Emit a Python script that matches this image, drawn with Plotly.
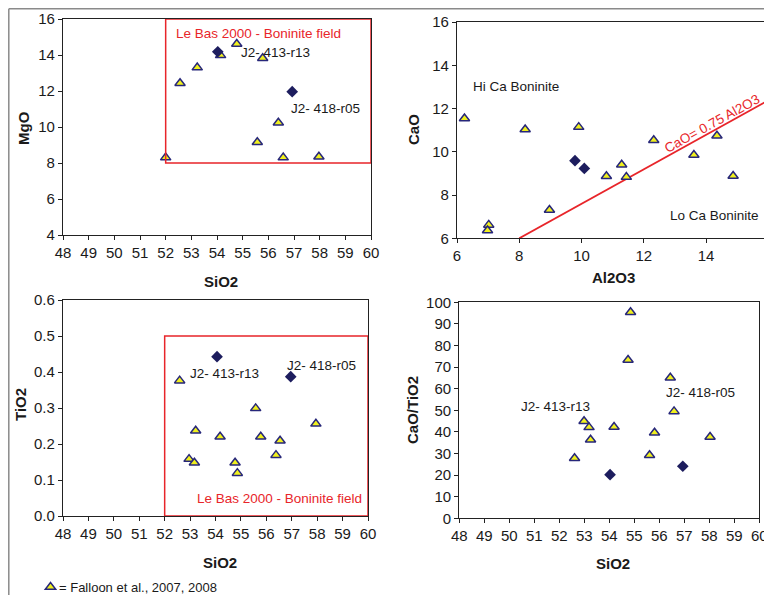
import plotly.graph_objects as go

# The page body adds an 8 px margin, so the figure is made smaller than the window
# (to avoid scrollbars) and every reference pixel position is shifted by OFF.
WIN_W, WIN_H = 772, 603
OFF = 8
W, H = WIN_W - OFF, WIN_H - 2 * OFF

# ---------------- data ----------------
# Panel 1: MgO vs SiO2
p1_tri_sio2 = [52.0, 52.56, 53.23, 54.14, 54.77, 55.78, 56.39, 55.57, 56.58, 57.97]
p1_tri_mgo = [8.3, 12.43, 13.3, 13.98, 14.61, 13.82, 10.24, 9.15, 8.3, 8.35]
p1_dia_sio2 = [54.03, 56.93]
p1_dia_mgo = [14.18, 11.96]

# Panel 2: CaO vs Al2O3
p2_tri_al2o3 = [6.24, 8.19, 9.91, 12.32, 14.35, 13.61, 11.29, 10.8, 11.44, 14.87, 8.97, 7.02, 6.98]
p2_tri_cao = [11.54, 11.03, 11.14, 10.53, 10.74, 9.85, 9.4, 8.87, 8.83, 8.88, 7.31, 6.62, 6.36]
p2_dia_al2o3 = [9.79, 10.09]
p2_dia_cao = [9.59, 9.23]
p2_line_al2o3 = [8.0, 16.0]
p2_line_cao = [6.0, 12.38]

# Panel 3: TiO2 vs SiO2
p3_tri_sio2 = [52.59, 55.58, 57.95, 53.22, 54.18, 55.78, 56.54, 56.38, 52.96, 53.17, 54.77, 54.86]
p3_tri_tio2 = [0.376, 0.299, 0.256, 0.237, 0.22, 0.22, 0.209, 0.169, 0.158, 0.148, 0.148, 0.119]
p3_dia_sio2 = [54.06, 56.96]
p3_dia_tio2 = [0.4425, 0.387]

# Panel 4: CaO/TiO2 vs SiO2
p4_tri_sio2 = [54.85, 54.75, 56.44, 56.59, 52.99, 53.19, 54.19, 55.81, 58.03, 53.25, 52.61, 55.61]
p4_tri_ratio = [95.4, 73.3, 65.1, 49.5, 44.9, 42.1, 42.3, 39.6, 37.6, 36.4, 27.8, 29.2]
p4_dia_sio2 = [54.03, 56.94]
p4_dia_ratio = [20.2, 24.1]

# Boninite fields (Le Bas 2000)
field1_sio2 = [52, 60]
field1_mgo = [8, 16]
field3_sio2 = [52, 60]
field3_tio2 = [0, 0.5]

legend_label = "= Falloon et al., 2007, 2008"

# ---------------- style ----------------
FONT = "Liberation Sans, Arial, sans-serif"
TRI_FILL = "#f0f01e"
TRI_LINE = "#27277a"
DIA = "#1d1d5e"
RED = "#e8252a"
AX = "#222222"

def fx(rx):
    return (rx - OFF) / W

def fy(ry):
    return 1 - (ry - OFF) / H

fig = go.Figure()

def tri(x, y, xa, ya, legend=False):
    fig.add_trace(go.Scatter(
        x=x, y=y, xaxis=xa, yaxis=ya, mode="markers",
        marker=dict(symbol="triangle-up", size=9, color=TRI_FILL,
                    line=dict(color=TRI_LINE, width=1.5)),
        name=" ", showlegend=legend, hoverinfo="x+y"))

def dia(x, y, xa, ya):
    fig.add_trace(go.Scatter(
        x=x, y=y, xaxis=xa, yaxis=ya, mode="markers",
        marker=dict(symbol="diamond", size=9, color=DIA, line=dict(width=0)),
        showlegend=False))

tri(p1_tri_sio2, p1_tri_mgo, "x", "y", legend=True)
dia(p1_dia_sio2, p1_dia_mgo, "x", "y")

fig.add_trace(go.Scatter(x=p2_line_al2o3, y=p2_line_cao, xaxis="x2", yaxis="y2",
                         mode="lines", line=dict(color=RED, width=1.8), showlegend=False))
tri(p2_tri_al2o3, p2_tri_cao, "x2", "y2")
dia(p2_dia_al2o3, p2_dia_cao, "x2", "y2")

tri(p3_tri_sio2, p3_tri_tio2, "x3", "y3")
dia(p3_dia_sio2, p3_dia_tio2, "x3", "y3")

tri(p4_tri_sio2, p4_tri_ratio, "x4", "y4")
dia(p4_dia_sio2, p4_dia_ratio, "x4", "y4")

def px_x(a, b):
    return [fx(a), min(fx(b), 1.0)]

def px_y(top, bottom):
    return [fy(bottom), fy(top)]

tickfont = dict(family=FONT, size=15, color="#1a1a1a")

def axis(domain, rng, dtick, anchor, fmt=None):
    d = dict(domain=domain, range=rng, dtick=dtick, tick0=rng[0], anchor=anchor,
             automargin=False,
             showgrid=False, zeroline=False, showline=True, linecolor=AX, linewidth=1.3,
             mirror=True, ticks="outside", ticklen=4, tickwidth=1, tickcolor=AX,
             tickfont=tickfont)
    if fmt:
        d["tickformat"] = fmt
    return d

fig.update_layout(
    width=W, height=H, autosize=False,
    margin=dict(l=0, r=0, t=0, b=0, pad=0, autoexpand=False),
    paper_bgcolor="white", plot_bgcolor="white",
    font=dict(family=FONT, color="#1a1a1a"),
    xaxis=axis(px_x(63, 371), [48, 60], 1, "y"),
    yaxis=axis(px_y(19, 235), [4, 16], 2, "x"),
    xaxis2=axis(px_x(457, 768.3), [6, 16], 2, "y2"),
    yaxis2=axis(px_y(22, 238.3), [6, 16], 2, "x2"),
    xaxis3=axis(px_x(63, 368), [48, 60], 1, "y3"),
    yaxis3=axis(px_y(300, 516), [0, 0.6], 0.1, "x3", ".1f"),
    xaxis4=axis(px_x(459.3, 759.3), [48, 60], 1, "y4"),
    yaxis4=axis(px_y(302.3, 518.3), [0, 100], 10, "x4"),
    showlegend=True,
    legend=dict(x=fx(30.5), y=fy(587), xanchor="left", yanchor="middle",
                bgcolor="rgba(0,0,0,0)", borderwidth=0,
                font=dict(family=FONT, size=13, color="#1a1a1a"),
                itemwidth=30, tracegroupgap=0),
)

shapes = [
    dict(type="rect", xref="x", yref="y", x0=field1_sio2[0], x1=field1_sio2[1],
         y0=field1_mgo[0], y1=field1_mgo[1], line=dict(color=RED, width=1.5)),
    dict(type="rect", xref="x3", yref="y3", x0=field3_sio2[0], x1=field3_sio2[1],
         y0=field3_tio2[0], y1=field3_tio2[1], line=dict(color=RED, width=1.5)),
    # outer frame of the figure (top and left edges)
    dict(type="line", xref="paper", yref="paper", x0=0.8 / W, x1=1.0,
         y0=1 - 0.8 / H, y1=1 - 0.8 / H, line=dict(color="#8a8a8a", width=1.5)),
    dict(type="line", xref="paper", yref="paper", x0=0.8 / W, x1=0.8 / W,
         y0=0, y1=1 - 0.8 / H, line=dict(color="#8a8a8a", width=1.5)),
]
fig.update_layout(shapes=shapes)

ann = []
def txt(x, y, s, xref, yref, color="#1a1a1a", size=13.5, xanchor="left", angle=0):
    ann.append(dict(x=x, y=y, xref=xref, yref=yref, text=s,
                    showarrow=False, xanchor=xanchor, yanchor="middle", textangle=angle,
                    font=dict(family=FONT, size=size, color=color)))

# panel 1
txt(52.32, 15.17, "Le Bas 2000 - Boninite field", "x", "y", color=RED)
txt(54.84, 14.13, "J2- 413-r13", "x", "y")
txt(56.79, 11.04, "J2- 418-r05", "x", "y")
# panel 2
txt(6.45, 13.0, "Hi Ca Boninite", "x2", "y2")
txt(15.78, 7.05, "Lo Ca Boninite", "x2", "y2", xanchor="right")
txt(14.2, 11.3, "CaO= 0.75 Al2O3", "x2", "y2", color=RED, xanchor="center", angle=-28.8)
# panel 3
txt(52.93, 0.396, "J2- 413-r13", "x3", "y3")
txt(56.73, 0.419, "J2- 418-r05", "x3", "y3")
txt(59.85, 0.049, "Le Bas 2000 - Boninite field", "x3", "y3", color=RED, xanchor="right")
# panel 4
txt(50.4, 51.7, "J2- 413-r13", "x4", "y4")
txt(56.17, 58.1, "J2- 418-r05", "x4", "y4")

# legend text next to the legend symbol
ann.append(dict(x=fx(57), y=fy(587), xref="paper", yref="paper", text=legend_label,
                showarrow=False, xanchor="left", yanchor="middle",
                font=dict(family=FONT, size=13, color="#1a1a1a")))

# axis titles (paper coordinates)
def title(xpx, ypx, s, angle=0):
    ann.append(dict(x=fx(xpx), y=fy(ypx), xref="paper", yref="paper", text="<b>%s</b>" % s,
                    showarrow=False, xanchor="center", yanchor="middle", textangle=angle,
                    font=dict(family=FONT, size=15, color="#1a1a1a")))

title(221, 281, "SiO2")
title(24, 128, "MgO", -90)
title(613, 277, "Al2O3")
title(414, 130, "CaO", -90)
title(220, 562, "SiO2")
title(20, 405, "TiO2", -90)
title(613, 563, "SiO2")
title(412, 410, "CaO/TiO2", -90)

fig.update_layout(annotations=ann)

fig.write_html("out.html")
